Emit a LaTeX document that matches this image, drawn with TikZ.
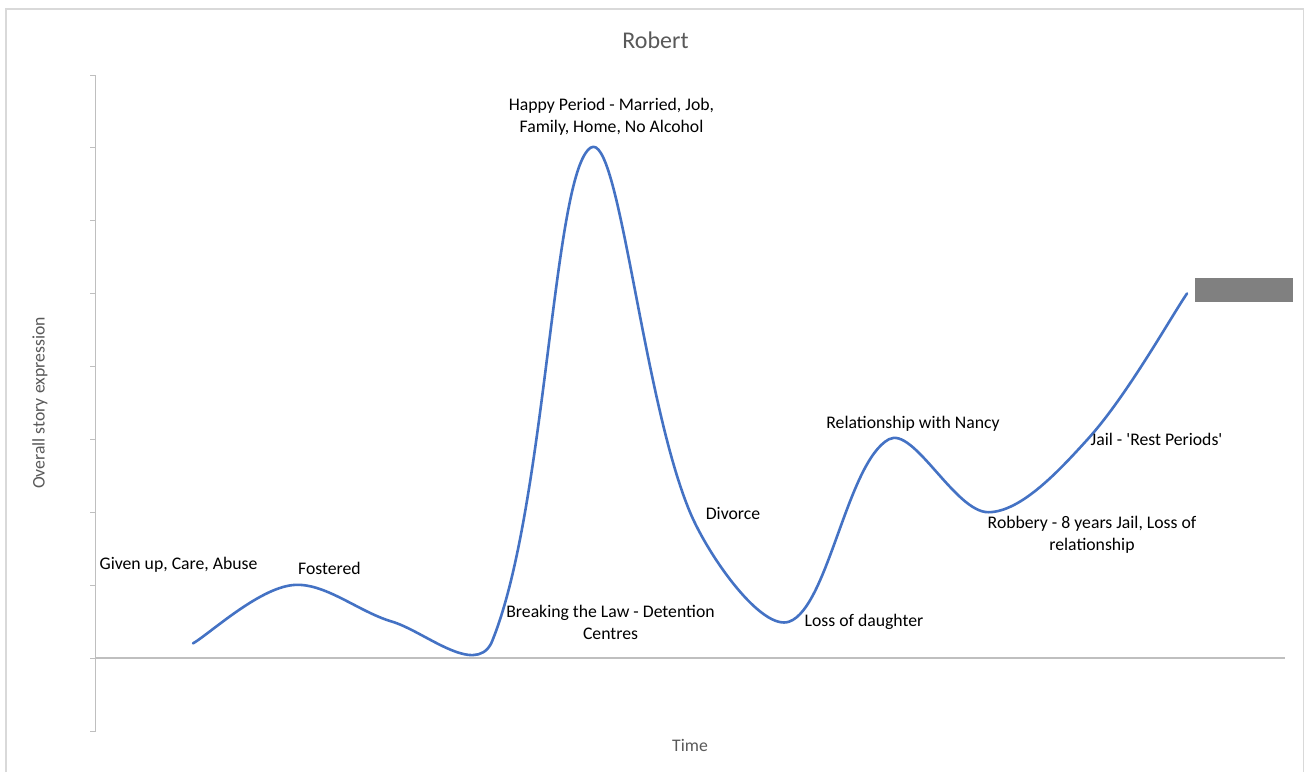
\documentclass[tikz,border=0pt]{standalone}
\usepackage{fontspec}
\setmainfont{Carlito}
\definecolor{serieblue}{HTML}{4472C4}
\definecolor{framegray}{HTML}{D9D9D9}
\definecolor{axisgray}{HTML}{BFBFBF}
\definecolor{titlegray}{HTML}{595959}
\definecolor{keygray}{HTML}{808080}
\tikzset{
  lbl/.style={font=\fontsize{17.7bp}{22bp}\selectfont, text=black, inner sep=0pt, align=center},
  axtitle/.style={font=\fontsize{17.7bp}{22bp}\selectfont, text=titlegray, inner sep=0pt},
  series/.style={draw=serieblue, line width=2.6bp, line cap=round, line join=round},
  tickmark/.style={draw=axisgray, line width=1bp}
}
\begin{document}
\begin{tikzpicture}[x=1bp, y=-1bp]
\useasboundingbox (0,0) rectangle (1304,772);
\clip (0,0) rectangle (1304,772);
\fill[white] (0,0) rectangle (1304,772);

% chart frame
\draw[framegray, line width=1.6bp] (5.7,772) -- (5.7,9) -- (1303.3,9) -- (1303.3,772);

% title
\node[font=\fontsize{24bp}{28bp}\selectfont, text=titlegray, inner sep=0pt] (title) at (655.5,40) {Robert};

% value axis with tick marks
\coordinate (ytop) at (95.7,75);
\coordinate (ybot) at (95.7,731);
\draw[tickmark] (ytop) -- (ybot);
\foreach \k in {0,...,9} {
  \draw[tickmark] (90,{75+72.9*\k}) -- (95.7,{75+72.9*\k});
}
% category axis at zero
\coordinate (xl) at (95.7,658);
\coordinate (xr) at (1285,658);
\draw[axisgray, line width=1.4bp] (xl) -- (xr);

% axis titles
\node[axtitle] (xtitle) at (690,745) {Time};
\node[axtitle, rotate=90] (ytitle) at (40,403) {Overall story expression};

% data points of the story line
\coordinate (p0) at (193,643.4);
\coordinate (p1) at (292.4,585.1);
\coordinate (p2) at (391.8,621.55);
\coordinate (p3) at (491.2,643.4);
\coordinate (p4) at (590.6,147.7);
\coordinate (p5) at (690,512.2);
\coordinate (p6) at (789.4,621.55);
\coordinate (p7) at (888.8,439.3);
\coordinate (p8) at (988.2,512.2);
\coordinate (p9) at (1087.6,439.3);
\coordinate (p10) at (1187,293.5);

% smoothed line
\draw[series] (p0)
  .. controls (209.6,633.7) and (257.9,588.9) .. (p1)
  .. controls (324.1,581.6) and (358.0,611.6) .. (p2)
  .. controls (424.3,631.1) and (474.0,676.0) .. (p3)
  .. controls (546.4,511.9) and (552.7,172.7) .. (p4)
  .. controls (618.9,129.0) and (642.4,398.7) .. (p5)
  .. controls (708.6,556.6) and (761.8,631.7) .. (p6)
  .. controls (828.1,607.4) and (847.2,462.2) .. (p7)
  .. controls (913.5,425.7) and (955.1,512.2) .. (p8)
  .. controls (1021.3,512.2) and (1060.3,469.3) .. (p9)
  .. controls (1126.6,396.4) and (1170.4,317.8) .. (p10);

% legend key
\fill[keygray] (1195,278.3) rectangle (1293.3,302.3);

% event labels
\node[lbl] (l0) at (178.5,565) {Given up, Care, Abuse};
\node[lbl] (l1) at (329.5,568) {Fostered};
\node[lbl] (l3) at (610.5,622) {Breaking the Law - Detention\\Centres};
\node[lbl] (l4) at (611.5,117) {Happy Period - Married, Job,\\Family, Home, No Alcohol};
\node[lbl] (l5) at (733,513) {Divorce};
\node[lbl] (l6) at (864,622) {Loss of daughter};
\node[lbl] (l7) at (913,424) {Relationship with Nancy};
\node[lbl] (l8) at (1092,535) {Robbery - 8 years Jail, Loss of\\relationship};
\node[lbl] (l9) at (1156.5,439) {Jail - \textquotesingle Rest Periods\textquotesingle};
\end{tikzpicture}
\end{document}
